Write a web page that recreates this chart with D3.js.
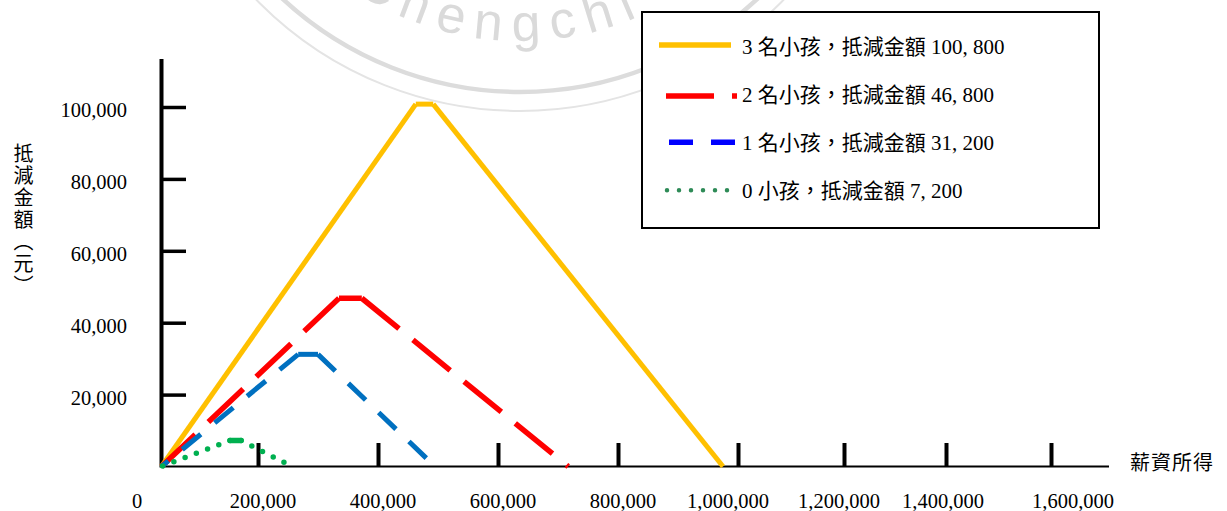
<!DOCTYPE html>
<html>
<head>
<meta charset="utf-8">
<script src="https://cdn.jsdelivr.net/npm/d3@7"></script>
<style>
  body { margin: 0; background: #fff; }
  svg { display: block; }
  .num { font-family: "Liberation Serif", "Times New Roman", serif; }
  .cjk { font-family: "Liberation Serif", "Noto Sans CJK TC", serif; }
</style>
</head>
<body>
<script>
// Income axis ticks (元)
const incomeTicks = [0, 200000, 400000, 600000, 800000, 1000000, 1200000, 1400000, 1600000];
// Credit axis ticks (元)
const creditTicks = [20000, 40000, 60000, 80000, 100000];

// One series per household type
const seriesLabels = [
  "3 名小孩，抵減金額 100, 800",
  "2 名小孩，抵減金額 46, 800",
  "1 名小孩，抵減金額 31, 200",
  "0 小孩，抵減金額 7, 200"
];
const maxCredit     = [100800, 46800, 31200, 7200];
const phaseInEnd    = [463000, 335000, 267000, 142000];
const phaseOutStart = [492000, 373000, 300000, 165000];
const phaseOutEnd   = [975000, 717000, 495000, 257000];

// Line looks: plot colour, key colour, dash pattern, width
const looks = [
  { color: "#FFC000", key: "#FFC000", dash: null,    width: 5,   cap: "butt"  },
  { color: "#FF0000", key: "#FF0000", dash: "48,18", width: 5.5, cap: "butt"  },
  { color: "#0070C0", key: "#0000FF", dash: "24,18", width: 5,   cap: "butt"  },
  { color: "#00B050", key: "#2E8B57", dash: "0,12",  width: 5.5, cap: "round" }
];

const W = 1227, H = 511;
const svg = d3.select("body").append("svg").attr("width", W).attr("height", H);

// The income axis is hand-spaced, so the scales are piecewise:
// one for the tick marks and data, one for where the tick labels sit.
const x = d3.scaleLinear()
  .domain(incomeTicks)
  .range([161.5, 258, 378, 498, 618, 738, 844, 946, 1051]);
const xLabel = d3.scaleLinear()
  .domain(incomeTicks)
  .range([137, 263, 383, 503, 623, 728, 839, 943, 1073]);
const y = d3.scaleLinear().domain([0, 100000]).range([466.5, 107]);

// ---- faint seal watermark ----
const seal = { cx: 520, cy: -257 };
const wm = svg.append("g");
wm.append("circle").attr("cx", seal.cx).attr("cy", seal.cy).attr("r", 368)
  .attr("fill", "none").attr("stroke", "#e4e4e4").attr("stroke-width", 2);
wm.append("circle").attr("cx", seal.cx).attr("cy", seal.cy).attr("r", 349)
  .attr("fill", "none").attr("stroke", "#dcdcdc").attr("stroke-width", 4.5);
wm.append("path").attr("id", "sealArc")
  .attr("d", `M${seal.cx - 298},${seal.cy} A298,298 0 0 0 ${seal.cx + 298},${seal.cy}`)
  .attr("fill", "none");
wm.append("text")
  .attr("font-family", "Liberation Sans, Arial, sans-serif")
  .attr("font-size", 52).attr("letter-spacing", 11).attr("fill", "#dadada")
  .append("textPath").attr("href", "#sealArc").attr("startOffset", 292)
  .text("Chengchi U");

// ---- axes ----
const axisG = svg.append("g");
// vertical axis
axisG.append("line")
  .attr("x1", x(0)).attr("x2", x(0)).attr("y1", 59).attr("y2", y(0) + 1)
  .attr("stroke", "#000").attr("stroke-width", 4);
// horizontal axis
axisG.append("line")
  .attr("x1", x(0)).attr("x2", 1109).attr("y1", y(0)).attr("y2", y(0))
  .attr("stroke", "#000").attr("stroke-width", 2);

// income tick marks (pointing up)
const xt = axisG.append("g").attr("transform", `translate(0,${y(0)})`)
  .call(d3.axisTop(x).tickValues(incomeTicks.slice(1)).tickSize(23.5).tickFormat(""));
xt.select(".domain").remove();
xt.selectAll(".tick line").attr("stroke", "#000").attr("stroke-width", 4);

// income tick labels, set well below the axis
axisG.selectAll("text.xlab").data(incomeTicks).join("text")
  .attr("class", "xlab num")
  .attr("x", d => xLabel(d))
  .attr("y", 508)
  .attr("text-anchor", "middle")
  .attr("font-size", 20.5)
  .attr("fill", "#000")
  .text(d3.format(","));

// credit tick marks (pointing right)
const yt = axisG.append("g").attr("transform", `translate(${x(0)},0)`)
  .call(d3.axisRight(y).tickValues(creditTicks).tickSize(24.5).tickFormat(""));
yt.select(".domain").remove();
yt.selectAll(".tick line").attr("stroke", "#000").attr("stroke-width", 3.5);

axisG.selectAll("text.ylab").data(creditTicks).join("text")
  .attr("class", "ylab num")
  .attr("x", 127)
  .attr("y", d => y(d) + 10)
  .attr("text-anchor", "end")
  .attr("font-size", 20.5)
  .attr("fill", "#000")
  .text(d3.format(","));

// axis titles
axisG.append("text")
  .attr("class", "cjk")
  .attr("x", 22).attr("y", 143)
  .attr("font-size", 20)
  .attr("letter-spacing", 2)
  .style("writing-mode", "vertical-rl")
  .attr("fill", "#000")
  .text("抵減金額（元）");
axisG.append("text")
  .attr("class", "cjk")
  .attr("x", 1130).attr("y", 470)
  .attr("font-size", 20)
  .attr("letter-spacing", 1)
  .attr("fill", "#000")
  .text("薪資所得");

// ---- credit schedules ----
// Each schedule: phase-in leg, flat plateau, phase-out leg.
// The legs are dashed outward from the plateau; the plateau is a solid run.
const plot = svg.append("g");
seriesLabels.forEach((label, i) => {
  const lk = looks[i];
  const p0 = [0, 0];
  const p1 = [phaseInEnd[i], maxCredit[i]];
  const p2 = [phaseOutStart[i], maxCredit[i]];
  const p3 = [phaseOutEnd[i], 0];
  const legs = [
    { a: p1, b: p0, dash: lk.dash },
    { a: p1, b: p2, dash: null },
    { a: p2, b: p3, dash: lk.dash }
  ];
  plot.append("g").selectAll("line").data(legs).join("line")
    .attr("x1", d => x(d.a[0])).attr("y1", d => y(d.a[1]))
    .attr("x2", d => x(d.b[0])).attr("y2", d => y(d.b[1]))
    .attr("stroke", lk.color)
    .attr("stroke-width", lk.width)
    .attr("stroke-linecap", lk.cap)
    .attr("stroke-dasharray", d => d.dash);
});

// ---- key ----
const key = svg.append("g");
key.append("rect")
  .attr("x", 642).attr("y", 12).attr("width", 457).attr("height", 216)
  .attr("fill", "#fff").attr("stroke", "#000").attr("stroke-width", 2);
const keySample = [[659, 731], [666, 737], [669, 735], [667, 729]];
const keyLift = [9, 6, 8, 8];
const rows = key.selectAll("g.row").data(seriesLabels).join("g")
  .attr("class", "row")
  .attr("transform", (d, i) => `translate(0,${54 + i * 48.1})`);
rows.append("line")
  .attr("x1", (d, i) => keySample[i][0]).attr("x2", (d, i) => keySample[i][1])
  .attr("y1", (d, i) => -keyLift[i]).attr("y2", (d, i) => -keyLift[i])
  .attr("stroke", (d, i) => looks[i].key)
  .attr("stroke-width", (d, i) => i === 3 ? 4.5 : 5.5)
  .attr("stroke-linecap", (d, i) => looks[i].cap)
  .attr("stroke-dasharray", (d, i) => looks[i].dash);
rows.append("text")
  .attr("class", "cjk")
  .attr("x", 742).attr("y", 0)
  .attr("font-size", 21)
  .attr("fill", "#000")
  .text(d => d);
</script>
</body>
</html>
